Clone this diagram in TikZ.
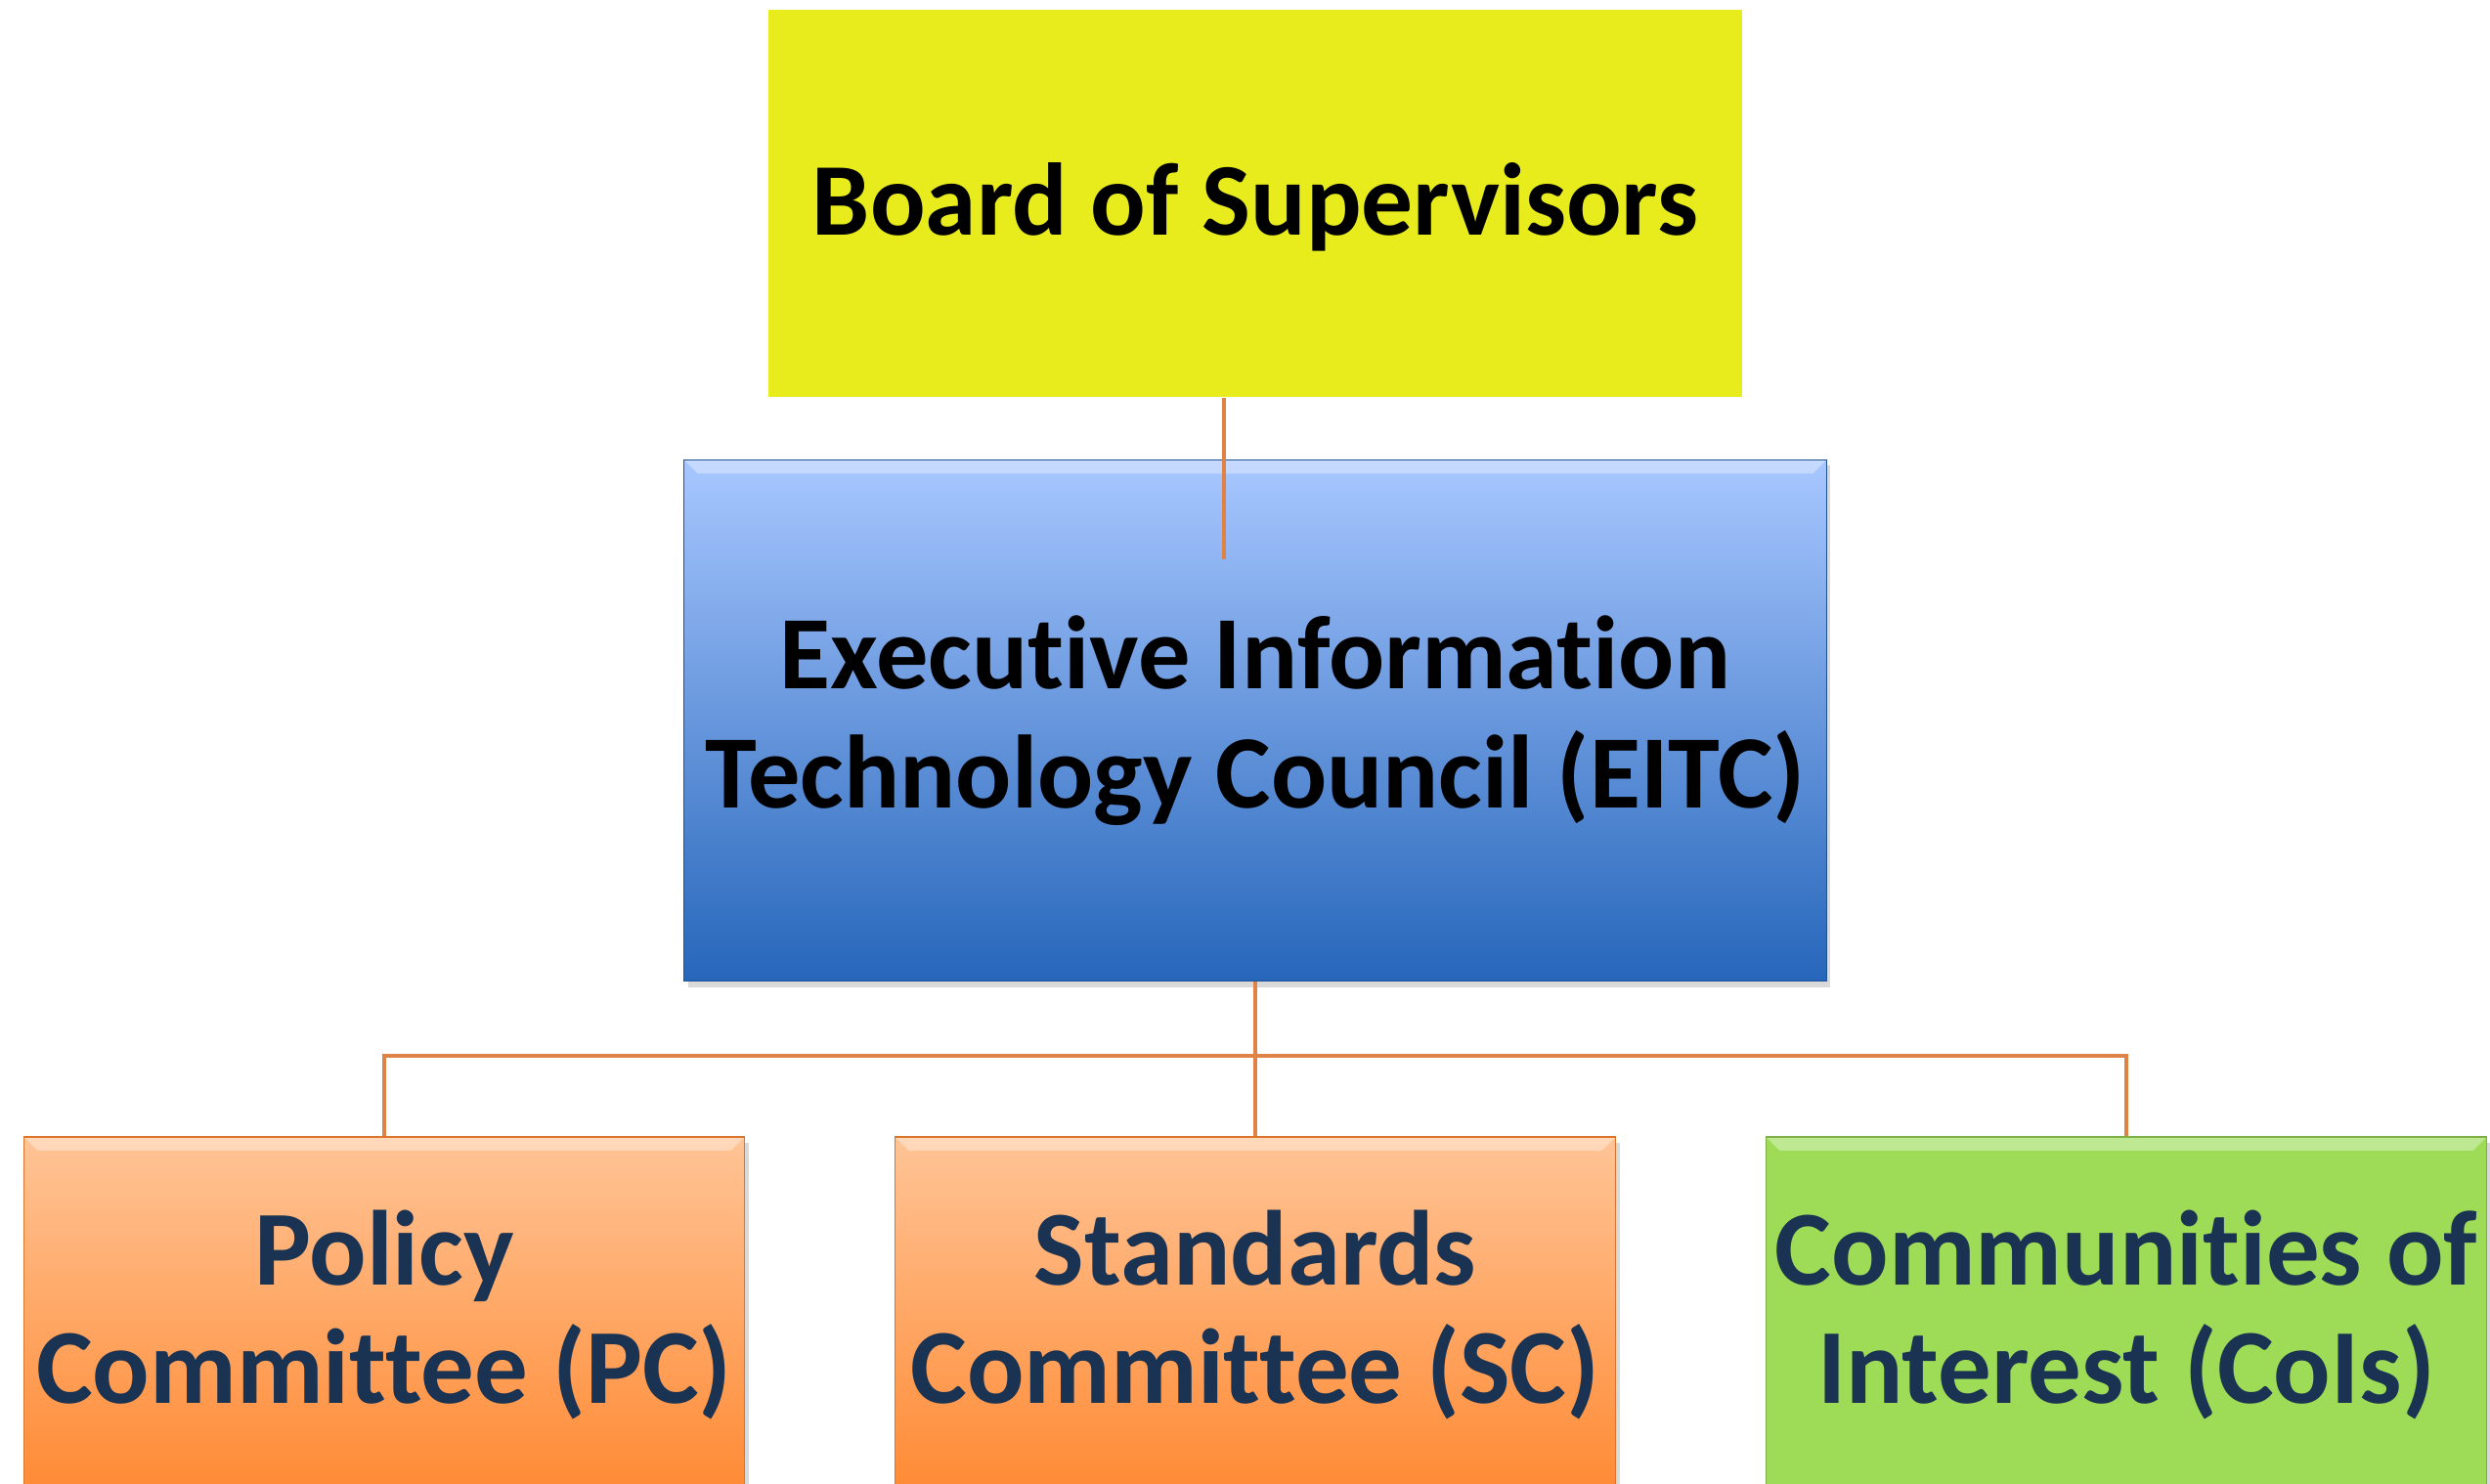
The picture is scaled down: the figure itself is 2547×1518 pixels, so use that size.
\documentclass[tikz,border=0pt]{standalone}
\usepackage{fontspec}
\setmainfont{Carlito}[Ligatures=NoCommon]
\usetikzlibrary{shadows}

\definecolor{boardyellow}{RGB}{232,236,28}
\definecolor{eitctop}{RGB}{168,199,255}
\definecolor{eitcbottom}{RGB}{38,102,186}
\definecolor{cmtop}{RGB}{255,196,150}
\definecolor{cmbottom}{RGB}{255,138,52}
\definecolor{coigreen}{RGB}{158,220,88}
\definecolor{navytext}{RGB}{27,51,82}
\definecolor{linkorange}{RGB}{222,130,70}

\begin{document}
\begin{tikzpicture}[x=0.01cm, y=-0.01cm,
  box/.style={rectangle, inner sep=0pt, align=center, font=\fontsize{30}{34.5}\selectfont\bfseries},
  bevel/.style={path picture={\fill[white, opacity=0.35] (path picture bounding box.north west) -- (path picture bounding box.north east) -- ([xshift=-0.14cm, yshift=-0.14cm]path picture bounding box.north east) -- ([xshift=0.14cm, yshift=-0.14cm]path picture bounding box.north west) -- cycle;}},
  shade/.style={drop shadow={opacity=0.3, shadow xshift=0.04cm, shadow yshift=-0.06cm}},
  committee/.style={box, shade, bevel, text=navytext, minimum width=7.37cm, minimum height=3.64cm, font=\fontsize{31}{34.2}\selectfont\bfseries},
  link/.style={color=linkorange, line width=1.3pt}]
\useasboundingbox (0,0) rectangle (2547,1518);
\clip (0,0) rectangle (2547,1518);

\node[box, fill=boardyellow, minimum width=9.96cm, minimum height=3.96cm, text height=26pt, text depth=7.5pt] (board) at (1284,208) {Board of Supervisors};

\node[box, shade, bevel, top color=eitctop, bottom color=eitcbottom, draw=eitcbottom!80!black, line width=0.4pt, minimum width=11.68cm, minimum height=5.33cm, font=\fontsize{30.3}{34.7}\selectfont\bfseries] (eitc) at (1284,737) {Executive Information\\Technology Council (EITC)};

\node[committee, top color=cmtop, bottom color=cmbottom, draw=cmbottom!85!black, line width=0.4pt] (pc) at (393,1345) {Policy\\Committee (PC)};
\node[committee, top color=cmtop, bottom color=cmbottom, draw=cmbottom!85!black, line width=0.4pt] (sc) at (1284,1345) {Standards\\Committee (SC)};
\node[committee, fill=coigreen, draw=coigreen!80!black, line width=0.4pt] (coi) at (2175,1345) {Communities of\\Interest (CoIs)};

% connectors
\coordinate (board link) at (1252,572);
\coordinate (bus) at (1284,1080);
\draw[link, line width=0.9pt] (board.south -| board link) -- (board link);
\draw[link] (eitc.south) -- (sc.north);
\draw[link] (pc.north) |- (bus) -| (coi.north);
\end{tikzpicture}
\end{document}
